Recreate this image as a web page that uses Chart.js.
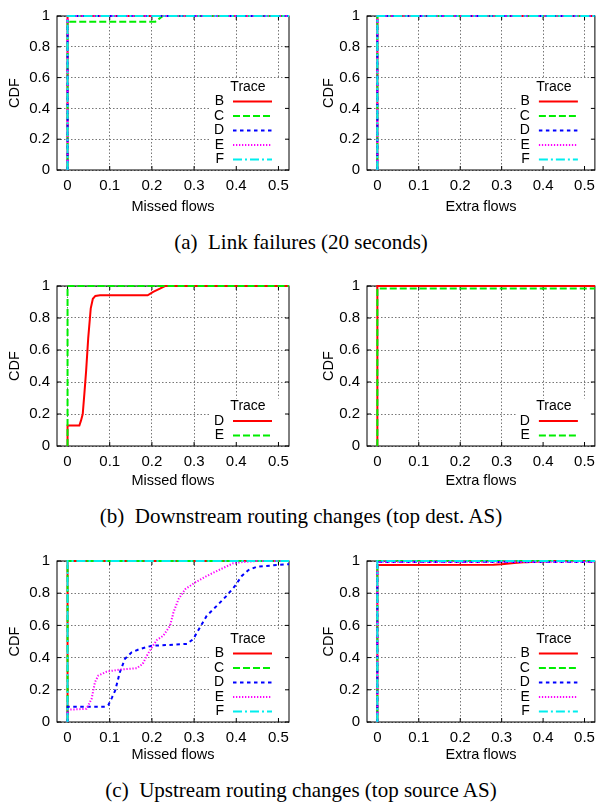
<!DOCTYPE html>
<html><head><meta charset="utf-8">
<script src="https://cdn.jsdelivr.net/npm/chart.js@4.4.1/dist/chart.umd.min.js"></script>
<style>
html,body{margin:0;padding:0;background:#fff;width:602px;height:807px;overflow:hidden;position:relative;}
canvas{position:absolute;}
.cap{position:absolute;left:0;width:602px;text-align:center;font-family:'Liberation Serif','Times New Roman',serif;font-size:21px;line-height:21px;color:#000;white-space:nowrap;}
</style></head><body>
<canvas id="a1" width="300" height="222" style="left:0;top:0"></canvas>
<canvas id="a2" width="302" height="222" style="left:300px;top:0"></canvas>
<div class="cap" style="top:232px">(a)&nbsp; Link failures (20 seconds)</div>
<canvas id="b1" width="300" height="222" style="left:0;top:270px"></canvas>
<canvas id="b2" width="302" height="222" style="left:300px;top:270px"></canvas>
<div class="cap" style="top:506px">(b)&nbsp; Downstream routing changes (top dest. AS)</div>
<canvas id="c1" width="300" height="222" style="left:0;top:545px"></canvas>
<canvas id="c2" width="302" height="222" style="left:300px;top:545px"></canvas>
<div class="cap" style="top:780px">(c)&nbsp; Upstream routing changes (top source AS)</div>
<script>
// ---- tick labels ----
const xTickValues = [0, 0.1, 0.2, 0.3, 0.4, 0.5];
const xTickLabels = ['0', '0.1', '0.2', '0.3', '0.4', '0.5'];
const yTickValues = [0, 0.2, 0.4, 0.6, 0.8, 1];
const yTickLabels = ['0', '0.2', '0.4', '0.6', '0.8', '1'];
const xMin = -0.025, xMax = 0.525;

// ---- trace names per row ----
const tracesAll = ['B', 'C', 'D', 'E', 'F'];
const tracesDownstream = ['D', 'E'];

// ---- (a) Link failures: [missed or extra fraction, CDF] ----
const linkMissedB = [[0,0],[0,1],[0.6,1]];
const linkMissedC = [[0,0],[0,0.963],[0.208,0.963],[0.216,0.98],[0.226,1],[0.6,1]];
const linkMissedD = [[0,0],[0,1],[0.6,1]];
const linkMissedE = [[0,0],[0,1],[0.6,1]];
const linkMissedF = [[0,0],[0,1],[0.6,1]];
const linkExtraB = [[0,0],[0,1],[0.6,1]];
const linkExtraC = [[0,0],[0,1],[0.6,1]];
const linkExtraD = [[0,0],[0,1],[0.6,1]];
const linkExtraE = [[0,0],[0,1],[0.6,1]];
const linkExtraF = [[0,0],[0,1],[0.6,1]];

// ---- (b) Downstream routing changes ----
const downMissedD = [[0,0],[0,0.128],[0.028,0.128],[0.032,0.16],[0.036,0.2],[0.040,0.33],[0.044,0.468],[0.049,0.674],[0.055,0.86],[0.060,0.92],[0.066,0.938],[0.077,0.942],[0.19,0.942],[0.203,0.963],[0.219,0.983],[0.231,1],[0.6,1]];
const downMissedE = [[0,0],[0,1],[0.6,1]];
const downExtraD = [[0,0],[0,1],[0.6,1]];
const downExtraE = [[0,0],[0,0.985],[0.6,0.985]];

// ---- (c) Upstream routing changes ----
const upMissedB = [[0,0],[0,1],[0.6,1]];
const upMissedC = [[0,0],[0,1],[0.6,1]];
const upMissedD = [[0,0],[0,0.095],[0.09,0.095],[0.097,0.107],[0.105,0.15],[0.113,0.196],[0.124,0.309],[0.136,0.392],[0.152,0.433],[0.172,0.454],[0.2,0.474],[0.235,0.478],[0.283,0.485],[0.298,0.515],[0.314,0.588],[0.33,0.66],[0.354,0.722],[0.377,0.784],[0.397,0.845],[0.413,0.907],[0.429,0.944],[0.449,0.965],[0.488,0.973],[0.52,0.979],[0.53,0.98]];
const upMissedE = [[0,0],[0,0.076],[0.045,0.082],[0.057,0.144],[0.065,0.247],[0.073,0.289],[0.093,0.313],[0.124,0.326],[0.164,0.334],[0.178,0.36],[0.188,0.412],[0.2,0.464],[0.212,0.51],[0.227,0.536],[0.243,0.598],[0.251,0.68],[0.263,0.763],[0.279,0.825],[0.302,0.866],[0.33,0.907],[0.362,0.948],[0.393,0.986],[0.417,0.994],[0.45,1],[0.6,1]];
const upMissedF = [[0,0],[0,1],[0.6,1]];
const upExtraB = [[0,0],[0,0.975],[0.28,0.977],[0.3,0.98],[0.33,0.987],[0.36,0.993],[0.4,0.998],[0.45,1],[0.6,1]];
const upExtraC = [[0,0],[0,1],[0.6,1]];
const upExtraD = [[0,0],[0,0.994],[0.6,0.994]];
const upExtraE = [[0,0],[0,0.994],[0.6,0.994]];
const upExtraF = [[0,0],[0,1],[0.6,1]];

// ---- styles (gnuplot line types 1..5) ----
const styleColors = ['#ff0000', '#00ee00', '#0000ff', '#ff00ff', '#00eeee'];
const styleDashes = [[], [7, 3], [3.5, 3.5], [1.3, 1.7], [9, 3, 2, 3]];

Chart.defaults.font.family = "'Liberation Sans', Arial, sans-serif";
Chart.defaults.font.size = 15;
Chart.defaults.color = '#000';

const frameLegend = {
  id: 'frameLegend',
  beforeDatasetsDraw(chart) {
    const {ctx, chartArea: a} = chart;
    const names = chart.options.plugins.frameLegend.names;
    const n = names.length;
    const titleY = a.bottom - 10.5 - n * 14.5;
    ctx.save();
    ctx.fillStyle = '#fff';
    ctx.fillRect(a.right - 78, titleY - 8, 75, a.bottom - (titleY - 8));
    ctx.strokeStyle = '#000';
    ctx.lineWidth = 1;
    ctx.setLineDash([]);
    ctx.strokeRect(a.left, a.top, a.right - a.left, a.bottom - a.top);
    const xs = chart.scales.x, ys = chart.scales.y;
    ctx.beginPath();
    xTickValues.forEach(v => {
      const px = xs.getPixelForValue(v);
      ctx.moveTo(px, a.bottom); ctx.lineTo(px, a.bottom - 4);
      ctx.moveTo(px, a.top); ctx.lineTo(px, a.top + 4);
    });
    yTickValues.forEach(v => {
      const py = ys.getPixelForValue(v);
      ctx.moveTo(a.left, py); ctx.lineTo(a.left + 4, py);
      ctx.moveTo(a.right, py); ctx.lineTo(a.right - 4, py);
    });
    ctx.stroke();
    ctx.restore();
  },
  afterDatasetsDraw(chart) {
    const {ctx, chartArea: a} = chart;
    const names = chart.options.plugins.frameLegend.names;
    const n = names.length;
    const titleY = a.bottom - 10.5 - n * 14.5;
    ctx.save();
    ctx.font = "14px 'Liberation Sans', Arial, sans-serif";
    ctx.fillStyle = '#000';
    ctx.textBaseline = 'middle';
    ctx.textAlign = 'center';
    ctx.fillText('Trace', a.right - 41, titleY);
    names.forEach((name, i) => {
      const y = a.bottom - 10.5 - (n - 1 - i) * 14.5;
      ctx.textAlign = 'right';
      ctx.fillStyle = '#000';
      ctx.fillText(name, a.right - 65, y);
      ctx.strokeStyle = styleColors[i];
      ctx.lineWidth = 2;
      ctx.setLineDash(styleDashes[i]);
      ctx.beginPath();
      ctx.moveTo(a.right - 56, y);
      ctx.lineTo(a.right - 17, y);
      ctx.stroke();
    });
    ctx.restore();
  }
};

function makePanel(id, names, series, xTitle, g) {
  const W = g.W, H = g.H;
  const datasets = series.map((pts, i) => ({
    label: names[i],
    data: pts.map(p => ({x: p[0], y: p[1]})),
    borderColor: styleColors[i],
    borderDash: styleDashes[i],
    borderWidth: 2,
    pointRadius: 0,
    fill: false,
    tension: 0,
    order: series.length - 1 - i,
    clip: {left: 3, top: 3, right: 0, bottom: 3}
  }));
  new Chart(document.getElementById(id), {
    type: 'line',
    data: {datasets},
    plugins: [frameLegend],
    options: {
      responsive: false,
      animation: false,
      devicePixelRatio: 1,
      events: [],
      layout: {padding: {left: g.padL, right: W - g.R, top: g.T, bottom: g.padB}},
      plugins: {legend: {display: false}, tooltip: {enabled: false}, frameLegend: {names}},
      scales: {
        x: {
          type: 'linear', min: xMin, max: xMax,
          afterBuildTicks: s => { s.ticks = xTickValues.map(v => ({value: v})); },
          afterFit: s => { s.height = (H - g.padB) - g.B; },
          ticks: {autoSkip: false, maxRotation: 0, padding: 7, callback: (v, i) => xTickLabels[i]},
          grid: {color: '#777', lineWidth: 1, drawTicks: false},
          border: {display: false, dash: [1.5, 2]},
          title: {display: true, text: xTitle, padding: 0, font: {size: 14.5}}
        },
        y: {
          type: 'linear', min: 0, max: 1,
          afterBuildTicks: s => { s.ticks = yTickValues.map(v => ({value: v})); },
          afterFit: s => { s.width = g.L - g.padL; },
          ticks: {autoSkip: false, padding: 7, callback: (v, i) => yTickLabels[i]},
          grid: {color: '#777', lineWidth: 1, drawTicks: false},
          border: {display: false, dash: [1.5, 2]},
          title: {display: true, text: 'CDF', padding: 0, font: {size: 14.5}}
        }
      }
    }
  });
}

const gLeftA  = {W: 300, H: 222, L: 57, R: 289, T: 9,  B: 170, padL: 6,  padB: 6};
const gRightA = {W: 302, H: 222, L: 67, R: 301, T: 9,  B: 170, padL: 20, padB: 6};
const gLeftB  = {W: 300, H: 222, L: 57, R: 289, T: 14, B: 176, padL: 6,  padB: 2.5};
const gRightB = {W: 302, H: 222, L: 67, R: 301, T: 14, B: 176, padL: 20, padB: 2.5};
const gLeftC  = {W: 300, H: 222, L: 57, R: 289, T: 15, B: 177, padL: 6,  padB: 3};
const gRightC = {W: 302, H: 222, L: 67, R: 301, T: 15, B: 177, padL: 20, padB: 3};

makePanel('a1', tracesAll, [linkMissedB, linkMissedC, linkMissedD, linkMissedE, linkMissedF], 'Missed flows', gLeftA);
makePanel('a2', tracesAll, [linkExtraB, linkExtraC, linkExtraD, linkExtraE, linkExtraF], 'Extra flows', gRightA);
makePanel('b1', tracesDownstream, [downMissedD, downMissedE], 'Missed flows', gLeftB);
makePanel('b2', tracesDownstream, [downExtraD, downExtraE], 'Extra flows', gRightB);
makePanel('c1', tracesAll, [upMissedB, upMissedC, upMissedD, upMissedE, upMissedF], 'Missed flows', gLeftC);
makePanel('c2', tracesAll, [upExtraB, upExtraC, upExtraD, upExtraE, upExtraF], 'Extra flows', gRightC);
</script>
</body></html>
